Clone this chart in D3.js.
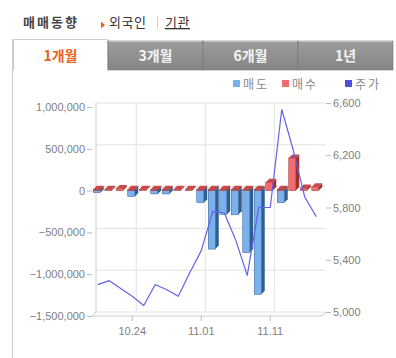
<!DOCTYPE html>
<html>
<head>
<meta charset="utf-8">
<script src="https://cdn.jsdelivr.net/npm/d3@7"></script>
<style>
  body { margin: 0; background: #fff; }
  svg { display: block; }
  .axis text { font-family: "Liberation Sans", Arial, sans-serif; font-size: 11px; fill: #808080; }
  .axis line { stroke: #bbb; }
  .axis path { display: none; }
</style>
</head>
<body>
<div id="chart"></div>
<script>
// trading days shown on the chart
const dates = ['10.21', '10.22', '10.23', '10.24', '10.25', '10.28', '10.29', '10.30', '10.31', '11.01',
    '11.04', '11.05', '11.06', '11.07', '11.08', '11.11', '11.12', '11.13', '11.14', '11.15'];
const tickDates = ['10.24', '11.01', '11.11'];
// 매도 (sell), 매수 (buy), 주가 (price)
const sellValues = [-25000, 0, 0, -70000, 0, -40000, -40000, 0, 0, -145000,
    -700000, -285000, -290000, -740000, -1240000, 0, -145000, 0, 0, 0];
const buyValues = [15000, 15000, 25000, 15000, 15000, 15000, 15000, 15000, 15000, 15000,
    15000, 15000, 15000, 15000, 15000, 100000, 15000, 390000, 30000, 45000];
const prices = [5210, 5240, 5180, 5120, 5050, 5210, 5170, 5120, 5300, 5470,
    5770, 5760, 5550, 5280, 5800, 5800, 6550, 6240, 5880, 5730];
const leftTicks = [1000000, 500000, 0, -500000, -1000000, -1500000];
const rightTicks = [6600, 6200, 5800, 5400, 5000];
const tabs = ['1개월', '3개월', '6개월', '1년'];
const legendItems = [
    {label: '매도', color: '#7ab0ec'},
    {label: '매수', color: '#f06a70'},
    {label: '주가', color: '#5050e0'}
];

const width = 396, height = 358;
const korean = '"Noto Sans CJK KR", "Noto Sans", sans-serif';
// 3D depth offset of the back wall
const dx = 4, dy = -4;

const svg = d3.select('#chart').append('svg')
    .attr('width', width)
    .attr('height', height);

svg.append('rect').attr('width', width).attr('height', height).attr('fill', '#fff');

// header
svg.append('text')
    .attr('x', 23).attr('y', 27)
    .style('font-family', korean).style('font-size', '13px').style('font-weight', 'bold')
    .style('letter-spacing', '2px')
    .attr('fill', '#444')
    .text('매매동향');
svg.append('path')
    .attr('d', 'M101,21.5 L105,25 L101,28.5 Z')
    .attr('fill', '#e8641a');
svg.append('text')
    .attr('x', 109).attr('y', 27)
    .style('font-family', korean).style('font-size', '13px')
    .style('letter-spacing', '0.5px')
    .attr('fill', '#333')
    .text('외국인');
svg.append('line')
    .attr('x1', 157.5).attr('x2', 157.5).attr('y1', 17).attr('y2', 29)
    .attr('stroke', '#ccc');
svg.append('text')
    .attr('x', 165).attr('y', 27)
    .style('font-family', korean).style('font-size', '13px')
    .style('text-decoration', 'underline')
    .style('letter-spacing', '0.5px')
    .attr('fill', '#333')
    .text('기관');

// panel border
svg.append('line')
    .attr('x1', 12.5).attr('x2', 12.5).attr('y1', 39).attr('y2', height)
    .attr('stroke', '#ccc');

// tabs
const defs = svg.append('defs');
const grad = defs.append('linearGradient').attr('id', 'tabGrad')
    .attr('x1', 0).attr('y1', 0).attr('x2', 0).attr('y2', 1);
grad.append('stop').attr('offset', '0%').attr('stop-color', '#9c9c9c');
grad.append('stop').attr('offset', '100%').attr('stop-color', '#858585');

const tabX = d3.scaleBand().domain(tabs).range([13, 393]);
const tabG = svg.append('g');
tabs.forEach(function (t, i) {
    const x = tabX(t);
    if (i === 0) {
        tabG.append('path')
            .attr('d', `M${x + 0.5},70 L${x + 0.5},39.5 L${x + tabX.bandwidth() - 0.5},39.5 L${x + tabX.bandwidth() - 0.5},70`)
            .attr('fill', '#fff').attr('stroke', '#ccc');
    } else {
        tabG.append('rect')
            .attr('x', x).attr('y', 41)
            .attr('width', tabX.bandwidth()).attr('height', 29)
            .attr('fill', 'url(#tabGrad)')
            .attr('stroke', '#777').attr('stroke-width', 0.6);
        tabG.append('line')
            .attr('x1', x + 1).attr('x2', x + tabX.bandwidth() - 1)
            .attr('y1', 41.5).attr('y2', 41.5)
            .attr('stroke', '#c4c4c4');
    }
    tabG.append('text')
        .attr('x', x + tabX.bandwidth() / 2).attr('y', 60.5)
        .attr('text-anchor', 'middle')
        .style('font-family', korean).style('font-size', '14px').style('font-weight', 'bold')
        .attr('fill', i === 0 ? '#e8641a' : '#f4f4f4')
        .text(t);
});

// legend
const legendX = [233, 282, 345];
legendItems.forEach(function (d, i) {
    svg.append('rect')
        .attr('x', legendX[i]).attr('y', 80)
        .attr('width', 7).attr('height', 7)
        .attr('fill', d.color);
    svg.append('text')
        .attr('x', legendX[i] + 10).attr('y', 88.5)
        .style('font-family', korean).style('font-size', '12px')
        .style('letter-spacing', '2px')
        .attr('fill', '#888')
        .text(d.label);
});

// scales
const x = d3.scaleBand().domain(dates).range([92, 322]);
const yL = d3.scaleLinear().domain([-1500000, 1000000]).range([316, 107]);
const yR = d3.scaleLinear().domain([5000, 6600]).range([312, 103]);

// back wall and gridlines
const wallLeft = 92 + dx, wallRight = 322 + dx;
const gridG = svg.append('g');
leftTicks.forEach(function (v) {
    gridG.append('line')
        .attr('x1', wallLeft).attr('x2', wallRight)
        .attr('y1', yL(v) + dy).attr('y2', yL(v) + dy)
        .attr('stroke', '#e2e2e2');
});
tickDates.forEach(function (d) {
    const cx = x(d) + x.bandwidth() / 2 + dx;
    gridG.append('line')
        .attr('x1', cx).attr('x2', cx)
        .attr('y1', yL(1000000) + dy).attr('y2', yL(-1500000) + dy)
        .attr('stroke', '#e2e2e2');
});
// left side wall
gridG.append('path')
    .attr('d', `M${wallLeft},${yL(1000000) + dy} L${wallLeft},${yL(-1500000) + dy} L92,${yL(-1500000)}`)
    .attr('fill', 'none').attr('stroke', '#cfcfcf');
// floor
gridG.append('path')
    .attr('d', `M92,${yL(-1500000)} L322,${yL(-1500000)} L${wallRight},${yL(-1500000) + dy}`)
    .attr('fill', 'none').attr('stroke', '#cfcfcf');

// 3D bars
const barW = 7, depth = 3.5;
function bar3d(g, i, v, front, top, side) {
    if (v === 0) return;
    const x0 = x(dates[i]) + (x.bandwidth() - barW) / 2 - 1;
    const y0 = yL(0), y1 = yL(v);
    const yt = Math.min(y0, y1), yb = Math.max(y0, y1);
    const h = Math.max(yb - yt, 1);
    // side face
    g.append('path')
        .attr('d', `M${x0 + barW},${yt} L${x0 + barW + depth},${yt - depth} L${x0 + barW + depth},${yt + h - depth} L${x0 + barW},${yt + h} Z`)
        .attr('fill', side);
    // top face
    g.append('path')
        .attr('d', `M${x0},${yt} L${x0 + depth},${yt - depth} L${x0 + barW + depth},${yt - depth} L${x0 + barW},${yt} Z`)
        .attr('fill', top);
    // front face
    g.append('rect')
        .attr('x', x0).attr('y', yt)
        .attr('width', barW).attr('height', h)
        .attr('fill', front)
        .attr('stroke', side).attr('stroke-width', 0.5);
}

const barG = svg.append('g');
sellValues.forEach(function (v, i) {
    bar3d(barG, i, v, '#7ab0ec', '#5b8fcc', '#2f5f92');
});
buyValues.forEach(function (v, i) {
    bar3d(barG, i, v, '#f26c6c', '#c94848', '#9c2e2e');
});

// price line
const priceLine = d3.line()
    .x(function (d, i) {
        return x(dates[i]) + x.bandwidth() / 2;
    })
    .y(function (d) {
        return yR(d);
    });
svg.append('path')
    .attr('d', priceLine(prices))
    .attr('fill', 'none')
    .attr('stroke', '#6262ea')
    .attr('stroke-width', 1.2)
    .attr('stroke-linejoin', 'round');

// left axis
svg.append('g')
    .attr('class', 'axis')
    .attr('transform', 'translate(92,0)')
    .call(d3.axisLeft(yL).tickValues(leftTicks).tickFormat(d3.format(',')).tickSize(5).tickPadding(2));

// right axis
svg.append('g')
    .attr('class', 'axis')
    .attr('transform', `translate(${wallRight},0)`)
    .call(d3.axisRight(yR).tickValues(rightTicks).tickFormat(d3.format(',')).tickSize(5).tickPadding(2));

// bottom axis
svg.append('g')
    .attr('class', 'axis')
    .attr('transform', `translate(0,${yL(-1500000)})`)
    .call(d3.axisBottom(x).tickValues(tickDates).tickSize(5).tickPadding(6));
</script>
</body>
</html>
